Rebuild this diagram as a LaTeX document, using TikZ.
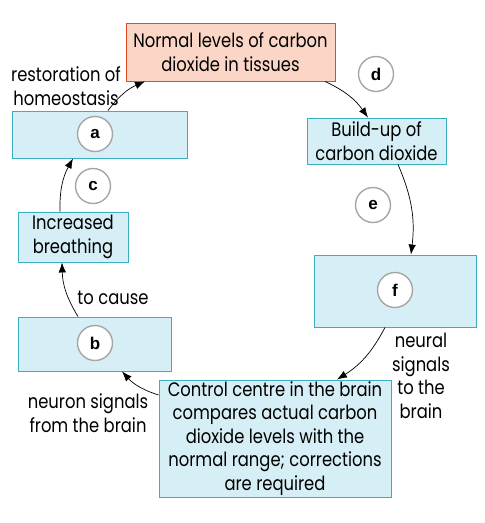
\documentclass[tikz,border=0pt]{standalone}
\usepackage{fontspec}
\setmainfont{Poppins}[FakeStretch=0.84]
\newfontfamily\lblfont{Liberation Sans}
\usetikzlibrary{arrows.meta}
\definecolor{bluefill}{HTML}{D6EEF5}
\definecolor{blueline}{HTML}{3AAFC0}
\definecolor{redfill}{HTML}{FBD6C6}
\definecolor{redline}{HTML}{E04A2A}
\begin{document}
\begin{tikzpicture}[x=1pt,y=-1pt,
  txt/.style={font=\fontsize{19.5}{23.5}\selectfont, align=center, inner sep=0pt},
  bluebox/.style={draw=blueline, fill=bluefill, line width=0.9pt, inner sep=0pt, txt},
  redbox/.style={draw=redline, fill=redfill, line width=0.9pt, inner sep=0pt, txt},
  letter/.style={circle, draw=black!35, line width=1.4pt, fill=white, minimum size=35pt, inner sep=0pt, font=\lblfont\bfseries\fontsize{17}{17}\selectfont},
  flow/.style={-{Latex[length=10pt,width=7.5pt]}, line width=0.7pt}
]
\useasboundingbox (0,0) rectangle (485,523);
\node[redbox, minimum width=209pt, minimum height=58pt] (top) at (230.5,52) {Normal levels of carbon\\dioxide in tissues};
\node[bluebox, minimum width=175pt, minimum height=47pt] (a) at (99.5,134.5) {};
\node[letter] (ca) at (95,134) {a};
\node[txt] (rest) at (66,86) {restoration of\\homeostasis};
\node[letter] (cd) at (376,74) {d};
\node[bluebox, minimum width=139pt, minimum height=46pt] (build) at (376.5,141) {Build-up of\\carbon dioxide};
\node[letter] (cc) at (93,186) {c};
\node[bluebox, minimum width=110pt, minimum height=50pt] (breath) at (73,237) {Increased\\breathing};
\node[txt] (cause) at (113,298) {to cause};
\node[bluebox, minimum width=153pt, minimum height=54pt] (b) at (94.5,344) {};
\node[letter] (cb) at (95,343) {b};
\node[letter] (ce) at (373,205) {e};
\node[bluebox, minimum width=162pt, minimum height=72pt] (f) at (395,291) {};
\node[letter] (cf) at (395,290) {f};
\node[txt] (neural) at (421,376) {neural\\signals\\to the\\brain};
\node[bluebox, minimum width=232pt, minimum height=117pt] (ctrl) at (275,438.5) {Control centre in the brain\\compares actual carbon\\dioxide levels with the\\normal range; corrections\\are required};
\node[txt] (neuron) at (88,413) {neuron signals\\from the brain};
\draw[flow] ([xshift=8.5pt]a.north) to[bend left=15] ([xshift=-85.5pt]top.south);
\draw[flow] ([xshift=94.5pt]top.south) to[bend left=15] ([xshift=-8.5pt]build.north);
\draw[flow] ([xshift=21.5pt]build.south) to[bend left=15] ([xshift=16pt]f.north);
\draw[flow] ([xshift=-10pt]f.south) to[bend left=15] ([xshift=62pt]ctrl.north);
\draw[flow] ([yshift=43.5pt]ctrl.west) to[bend left=15] ([xshift=27.5pt]b.south);
\draw[flow] ([xshift=-16.5pt]b.north) to[bend left=15] ([xshift=-11pt]breath.north |- breath.south);
\draw[flow] ([xshift=-13pt]breath.north) to[bend left=15] ([xshift=-26.5pt]a.south);
\end{tikzpicture}
\end{document}
